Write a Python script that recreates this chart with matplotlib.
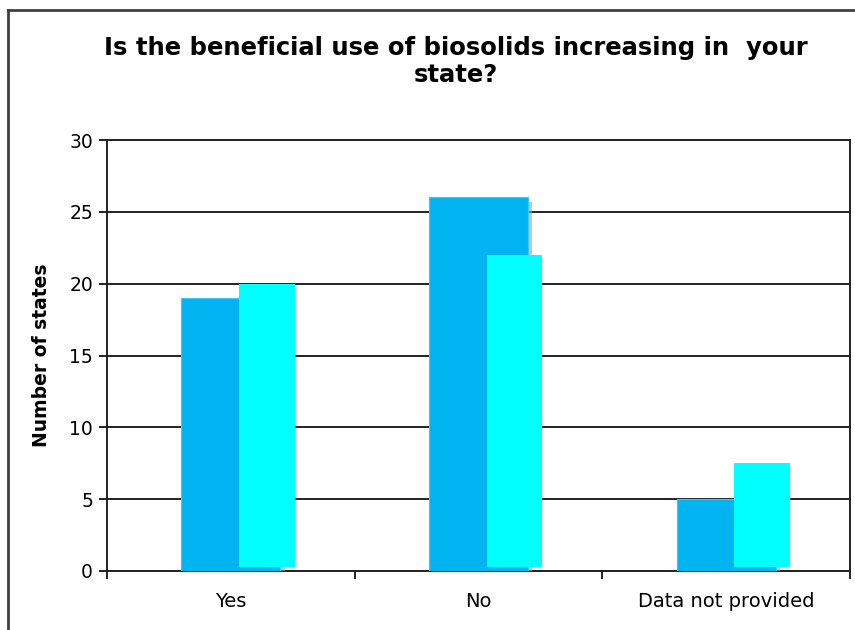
import matplotlib
matplotlib.use("Agg")
import matplotlib.pyplot as plt
import matplotlib.patheffects as pe
import numpy as np

categories = ["Yes", "No", "Data not provided"]
series_a = [19, 26, 5]
series_b = [20, 22, 7.5]
y_ticks = [0, 5, 10, 15, 20, 25, 30]
title = "Is the beneficial use of biosolids increasing in  your\nstate?"
ylabel = "Number of states"

plt.rcParams['font.family'] = ['DejaVu Sans']

fig = plt.figure(figsize=(8.55, 6.3), dpi=100)
ax = fig.add_axes([107/855, 59/630, 743/855, 431/630])

x = np.arange(len(categories)) + 0.5
blue = "#00B4F2"
cyan = "#00FFFF"

bars_a = ax.bar(x, series_a, width=0.4, color=blue, edgecolor="#40C8F8",
                linewidth=0.8, zorder=3)
for b in bars_a:
    b.set_path_effects([pe.SimplePatchShadow(offset=(3, -3), shadow_rgbFace="#a0a0a0", alpha=0.6),
                        pe.Normal()])
off = 0.3
ax.bar(x + 0.145, np.array(series_b) - off, bottom=off, width=0.225,
       color=cyan, edgecolor="none", zorder=4)

ax.set_xlim(0, 3)
ax.set_ylim(0, 30)
ax.set_yticks(y_ticks)
ax.yaxis.grid(True, color="#222222", linewidth=1.4, zorder=1)
ax.set_axisbelow(True)

ax.set_xticks([0, 1, 2, 3])
ax.set_xticklabels([])
ax.set_xticks(x, minor=True)
ax.set_xticklabels(categories, minor=True, fontsize=14)
ax.tick_params(axis='x', which='minor', length=0, pad=15)
ax.tick_params(axis='x', which='major', length=6, width=1.4, direction='out', color="#222222")
ax.tick_params(axis='y', length=6, width=1.4, direction='out', labelsize=13.5, pad=4, color="#222222")

for s in ax.spines.values():
    s.set_color("#222222")
    s.set_linewidth(1.4)

ax.set_ylabel(ylabel, fontsize=13.5, fontweight='bold', labelpad=13)

fig.text(0.533, 0.902, title, ha='center', va='center', fontsize=17.5,
         fontweight='bold', linespacing=1.15)

# outer frame (top and left edges)
fig.add_artist(plt.Line2D([8/855, 8/855], [0, 1 - 10/630], color="#404040", linewidth=2,
                          transform=fig.transFigure))
fig.add_artist(plt.Line2D([8/855, 1], [1 - 10/630, 1 - 10/630], color="#404040", linewidth=2,
                          transform=fig.transFigure))

fig.savefig("out.png", dpi=100)
